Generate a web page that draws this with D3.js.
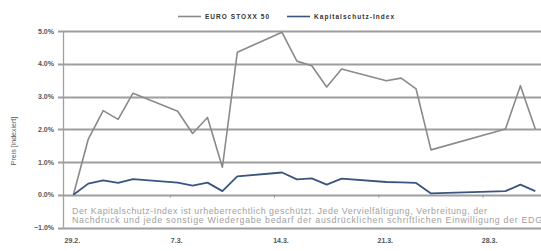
<!DOCTYPE html>
<html><head><meta charset="utf-8">
<script src="https://cdn.jsdelivr.net/npm/d3@7"></script>
<style>body{margin:0;background:#fff;}svg{display:block;font-family:"Liberation Sans",Arial,sans-serif;}</style>
</head><body><svg id="c" width="541" height="251"></svg>
<script>
const days = [0,1,2,3,4,7,8,9,10,11,14,15,16,17,18,21,22,23,24,29,30,31];
const euroStoxx = [0,1.7,2.57,2.3,3.1,2.55,1.87,2.36,0.84,4.35,4.96,4.08,3.94,3.29,3.84,3.48,3.56,3.23,1.37,2.01,3.33,2.01];
const kapital = [0,0.34,0.44,0.36,0.48,0.37,0.28,0.37,0.11,0.56,0.68,0.47,0.5,0.31,0.49,0.39,0.38,0.36,0.04,0.11,0.31,0.11];
const yTicks = [-1,0,1,2,3,4,5];
const xTickDays = [0,7,14,21,28];
const xTickLabels = ["29.2.","7.3.","14.3.","21.3.","28.3."];
const seriesNames = ["EURO STOXX 50","Kapitalschutz-Index"];
const disclaimer = ["Der Kapitalschutz-Index ist urheberrechtlich geschützt. Jede Vervielfältigung, Verbreitung, der",
"Nachdruck und jede sonstige Wiedergabe bedarf der ausdrücklichen schriftlichen Einwilligung der EDG"];

const svg = d3.select("#c");
const x = d3.scaleLinear().domain([0,1]).range([73.4,88.3]);
const y = d3.scaleLinear().domain([-1,5]).range([227.5,31]);
const left = 63.5;

svg.append("g").selectAll("line").data(yTicks).join("line")
  .attr("x1",58).attr("x2",541).attr("y1",d=>Math.round(y(d))+0.5).attr("y2",d=>Math.round(y(d))+0.5)
  .attr("stroke","#9e9e9e").attr("stroke-width",1.8);
svg.append("line").attr("x1",left).attr("x2",left).attr("y1",y(5)).attr("y2",y(-1)).attr("stroke","#a0a0a0").attr("stroke-width",1.3);
svg.append("g").selectAll("line").data(xTickDays.slice(1)).join("line")
  .attr("x1",d=>x(d-0.5)).attr("x2",d=>x(d-0.5)).attr("y1",y(0)).attr("y2",y(0)+3)
  .attr("stroke","#999").attr("stroke-width",1);
svg.append("g").selectAll("text").data(yTicks).join("text")
  .attr("x",54).attr("y",d=>y(d)+2.5).attr("text-anchor","end")
  .attr("font-size",7).attr("font-weight","bold").attr("fill","#555")
  .text(d=>d3.format(".1f")(d)+"%");
svg.append("g").selectAll("text").data(xTickDays).join("text")
  .attr("x",(d)=>x(d)-1).attr("y",243).attr("text-anchor","middle")
  .attr("font-size",7).attr("font-weight","bold").attr("fill","#555")
  .text((d,i)=>xTickLabels[i]);
svg.append("text").attr("transform","translate(16,141) rotate(-90)").attr("text-anchor","middle")
  .attr("font-size",7).attr("fill","#555").text("Preis [indexiert]");
const dispLen = [415, 470];
svg.append("g").selectAll("text").data(disclaimer).join("text")
  .attr("x",72).attr("y",(d,i)=>214+i*9).attr("font-size",8.8).attr("fill","#a0a0a0")
  .attr("textLength",(d,i)=>dispLen[i]).attr("lengthAdjust","spacing")
  .text(d=>d);

const line = d3.line().x(d=>x(d[0])).y(d=>y(d[1]));
svg.append("path").datum(days.map((d,i)=>[d,euroStoxx[i]])).attr("d",line)
  .attr("fill","none").attr("stroke","#8a8a8a").attr("stroke-width",1.6).attr("stroke-linejoin","round");
svg.append("path").datum(days.map((d,i)=>[d,kapital[i]])).attr("d",line)
  .attr("fill","none").attr("stroke","#3a5580").attr("stroke-width",1.8).attr("stroke-linejoin","round");

const colors = ["#8a8a8a","#3a5580"];
const lx = [178,287];
const legLen = [64, 80];
seriesNames.forEach((n,i)=>{
  svg.append("line").attr("x1",lx[i]).attr("x2",lx[i]+23).attr("y1",16.5).attr("y2",16.5)
    .attr("stroke",colors[i]).attr("stroke-width",1.6);
  svg.append("text").attr("x",lx[i]+27).attr("y",19).attr("font-size",6.5).attr("font-weight","bold")
    .attr("fill","#333").attr("textLength",legLen[i]).attr("lengthAdjust","spacing").text(n);
});
</script></body></html>
